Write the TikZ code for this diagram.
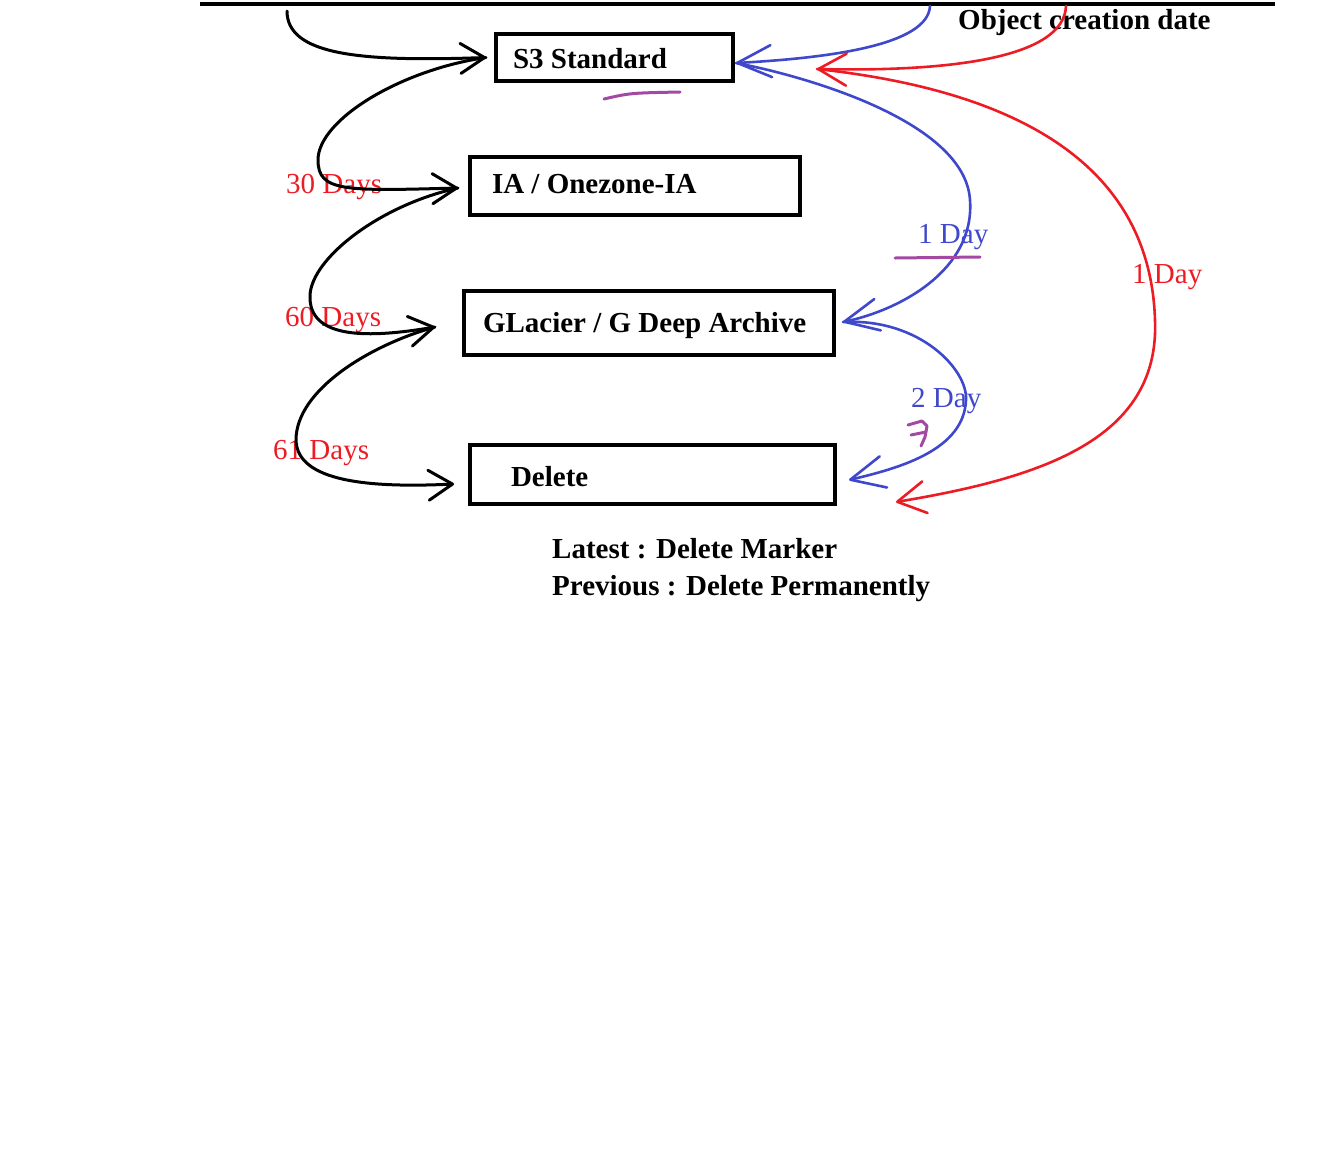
\documentclass[tikz,border=0pt]{standalone}
\usepackage{fontspec}
\setmainfont{Liberation Serif}
\usetikzlibrary{arrows.meta}
\definecolor{myred}{HTML}{ED1C24}
\definecolor{myblue}{HTML}{3F48CC}
\definecolor{mypurple}{HTML}{A349A4}
\newcommand\boxlbl[2]{\makebox[#1pt][l]{#2}}
\begin{document}
\begin{tikzpicture}[x=1pt,y=-1pt,
  bigfont/.style={font=\bfseries\fontsize{29}{35}\selectfont},
  box/.style={draw, line width=4pt, inner ysep=0pt, text depth=0pt, bigfont},
  plain/.style={inner sep=0pt, anchor=base west, bigfont},
  redlbl/.style={inner sep=0pt, anchor=base west, text=myred, font=\fontsize{29}{35}\selectfont},
  bluelbl/.style={inner sep=0pt, anchor=base west, text=myblue, font=\fontsize{29}{35}\selectfont},
  kline/.style={line width=3pt, line cap=round, line join=round},
  karrow/.style={kline, -{Straight Barb[length=24pt,width=30pt,round]}},
  bline/.style={myblue, line width=2.6pt, line cap=round, line join=round},
  barrow/.style={bline, -{Straight Barb[length=34pt,width=32pt,round]}},
  rline/.style={myred, line width=2.6pt, line cap=round, line join=round},
  rarrow/.style={rline, -{Straight Barb[length=28pt,width=32pt,round]}},
  pline/.style={mypurple, line width=3pt, line cap=round, line join=round}
]
\useasboundingbox (0,0) rectangle (1342,1160);

% top line
\coordinate (topL) at (200,4);
\coordinate (topR) at (1275,4);
\draw[line width=4pt] (topL) -- (topR);

% boxes
\node[box, minimum width=237pt, minimum height=47pt, inner xsep=17pt, text height=21pt] (s3) at (614.5,57.5) {\boxlbl{203}{S3 Standard}};
\node[box, minimum width=330pt, minimum height=58pt, inner xsep=22pt, text height=14pt] (ia) at (635,186) {\boxlbl{286}{IA / Onezone-IA}};
\node[box, minimum width=370pt, minimum height=64pt, inner xsep=19pt, text height=18pt] (gl) at (649,323) {\boxlbl{332}{GLacier / G Deep Archive}};
\node[box, minimum width=365pt, minimum height=59pt, inner xsep=41pt, text height=23pt] (del) at (652.5,474.5) {\boxlbl{283}{Delete}};

% texts
\node[plain] (ocd) at (958,29) {Object creation date};
\node[plain] (lat) at (552,558) {Latest : Delete Marker};
\node[plain] (prev) at (552,595) {Previous : Delete Permanently};
\node[redlbl] (d30) at (286,193) {30 Days};
\node[redlbl] (d60) at (285,326) {60 Days};
\node[redlbl] (d61) at (273,459) {61 Days};
\node[bluelbl] (b1) at (918,243) {1 Day};
\node[bluelbl] (b2) at (911,407) {2 Day};
\node[redlbl] (r1) at (1132,283) {1 Day};

% tip coordinates
\coordinate (kstart) at (287,11);
\coordinate (tS3) at ([xshift=-8pt]s3.west);
\coordinate (tIA) at ([xshift=-10pt,yshift=-2pt]ia.west);
\coordinate (tGL) at ([xshift=-27pt,yshift=-4pt]gl.west);
\coordinate (tDel) at ([xshift=-14pt,yshift=-9.5pt]del.west);
\coordinate (bstart) at (930,6);
\coordinate (btS3) at ([xshift=1pt,yshift=-5.5pt]s3.east);
\coordinate (btGL) at ([xshift=7pt,yshift=1pt]gl.east);
\coordinate (btDel) at ([xshift=12pt,yshift=-5.5pt]del.east);
\coordinate (rstart) at (1066,6);
\coordinate (rtS3) at ([xshift=82pt,yshift=-11.5pt]s3.east);
\coordinate (rtDel) at ([xshift=59pt,yshift=-27.5pt]del.east);

% black chain
\draw[karrow] (kstart) .. controls (287,55) and (360,62) .. (tS3);
\draw[karrow] (tS3) .. controls (400,70) and (318,120) .. (318,160) .. controls (318,192) and (345,191) .. (tIA);
\draw[karrow] (tIA) .. controls (380,205) and (312,258) .. (310,295) .. controls (308,340) and (370,338) .. (tGL);
\draw[karrow] (tGL) .. controls (370,345) and (296,390) .. (296,440) .. controls (297,482) and (370,488) .. (tDel);

% blue
\draw[barrow] (bstart) .. controls (928,45) and (830,58) .. (btS3);
\draw[barrow] (btS3) .. controls (800,75) and (965,120) .. (970,200) .. controls (975,270) and (900,310) .. (btGL);
\draw[barrow] (btGL) .. controls (920,318) and (968,370) .. (966,400) .. controls (964,450) and (900,468) .. (btDel);

% red
\draw[rarrow] (rstart) .. controls (1064,58) and (950,72) .. (rtS3);
\draw[rarrow] (rtS3) .. controls (1010,90) and (1150,160) .. (1155,320) .. controls (1160,440) and (1040,478) .. (rtDel);

% purple marks
\coordinate (pa) at (604,99);
\coordinate (pb) at (680,92);
\draw[pline] (pa) .. controls (630,93) .. (pb);
\coordinate (pc) at (895,258);
\coordinate (pd) at (980,257);
\draw[pline] (pc) -- (pd);
\draw[pline] (908,425) -- (922,421) -- (927,426) -- (925,437) -- (921,446);
\draw[pline] (911,435) -- (926,432);
\end{tikzpicture}
\end{document}
